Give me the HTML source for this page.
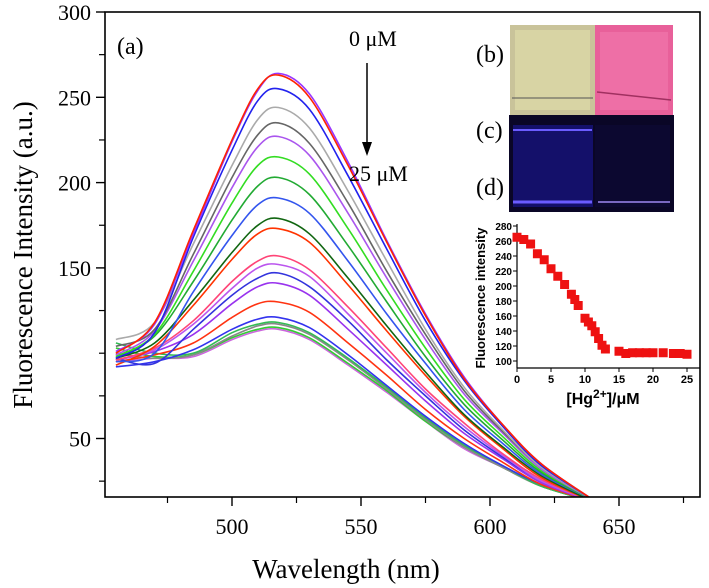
<!DOCTYPE html>
<html><head><meta charset="utf-8">
<style>
html,body{margin:0;padding:0;background:#fff;}
svg{display:block;font-family:"Liberation Serif",serif;}
.sans{font-family:"Liberation Sans",sans-serif;font-weight:bold;}
</style></head>
<body>
<svg id="chart" width="709" height="588" viewBox="0 0 709 588" xmlns="http://www.w3.org/2000/svg">
<defs><clipPath id="plotclip"><rect x="105" y="12" width="595" height="485"/></clipPath></defs>
<g id="curves" clip-path="url(#plotclip)"></g>
<rect x="105" y="12" width="595" height="485" fill="none" stroke="#000" stroke-width="1.6"/>
<g id="xticks"></g>
<g id="yticks"></g>
<text x="346" y="578" font-size="27" text-anchor="middle">Wavelength (nm)</text>
<text transform="translate(32,255) rotate(-90)" font-size="27" text-anchor="middle">Fluorescence Intensity (a.u.)</text>
<text x="117" y="54" font-size="24">(a)</text>
<text x="349" y="46" font-size="22">0 μM</text>
<line x1="367" y1="63" x2="367" y2="150" stroke="#000" stroke-width="1.5"/>
<polygon points="362,142 372,142 367,156" fill="#000"/>
<text x="349" y="181" font-size="22">25 μM</text>
<text x="476" y="62" font-size="24">(b)</text>
<text x="476" y="138" font-size="24">(c)</text>
<text x="476" y="195" font-size="24">(d)</text>
<g>
<rect x="510" y="25" width="85" height="90" fill="#c9c39a"/>
<rect x="515" y="30" width="75" height="80" fill="#d8d4a4"/>
<rect x="595" y="25" width="78" height="90" fill="#e8609a"/>
<rect x="600" y="32" width="68" height="78" fill="#ee6fa6"/>
<line x1="512" y1="98" x2="593" y2="98" stroke="#555" stroke-width="1"/>
<line x1="597" y1="92" x2="671" y2="100" stroke="#a03060" stroke-width="1.5"/>
</g>
<g>
<rect x="509" y="115" width="165" height="97" fill="#0a0626"/>
<rect x="513" y="125" width="80" height="82" fill="#14106a"/>
<rect x="595" y="125" width="75" height="82" fill="#0c0830"/>
<line x1="513" y1="130" x2="592" y2="130" stroke="#6b5cff" stroke-width="2"/>
<line x1="513" y1="202" x2="592" y2="202" stroke="#6b5cff" stroke-width="3"/>
<line x1="598" y1="202" x2="670" y2="202" stroke="#7a68c0" stroke-width="2"/>
</g>
<g id="inset"></g>
<text transform="translate(485,298) rotate(-90)" class="sans" font-size="13" text-anchor="middle">Fluorescence intensity</text>
<text x="603" y="404" class="sans" font-size="16" text-anchor="middle">[Hg<tspan font-size="12" dy="-6">2+</tspan><tspan dy="6">]/μM</tspan></text>
</svg>
<script>
const wavelengths=[455,470,485,500,510,518,530,545,560,575,590,605,620,640];
const s01=[100,118,172,225,255,263,250,210,165,122,85,58,35,14];
const s02=[101,117,170,224,254,264,252,212,166,123,86,58,35,14];
const s03=[97,112,168,219,248,255,243,204,161,119,84,57,34,14];
const s04=[108,118,164,210,237,244,232,195,154,114,80,55,33,14];
const s05=[104,114,158,203,228,235,223,188,148,111,78,54,33,14];
const s06=[99,113,154,197,221,227,216,182,144,108,76,53,32,14];
const s07=[98,111,148,188,210,215,205,173,137,103,73,51,31,14];
const s08=[98,110,142,178,198,203,193,163,130,98,70,49,30,14];
const s09=[95,100,136,169,187,191,182,154,123,94,67,47,29,14];
const s10=[97,106,131,159,175,179,170,144,116,89,64,45,28,13];
const s11=[93,104,128,155,170,173,165,140,113,87,63,44,27,13];
const s12=[96,103,119,142,154,157,149,127,103,79,59,41,26,13];
const s13=[96,102,117,138,150,152,145,123,100,77,57,40,25,13];
const s14=[97,94,114,134,144,147,139,119,96,75,55,39,25,13];
const s15=[96,101,111,129,139,141,134,114,93,72,53,38,24,13];
const s16=[95,99,106,121,129,130,124,106,87,67,50,36,23,13];
const s17=[92,95,102,114,120,121,115,99,81,63,47,34,23,13];
const s18=[106,100,100,112,117,118,112,97,80,62,46,34,22,13];
const s19=[100,97,99,110,116,117,111,96,79,61,45,33,22,13];
const s20=[103,98,99,109,114,115,109,94,78,60,45,33,22,13];
const s21=[95,97,98,108,113,114,108,93,77,60,44,33,22,13];
const seriesList=[s21,s20,s19,s18,s17,s16,s15,s14,s13,s12,s11,s10,s09,s08,s07,s06,s05,s04,s03,s02,s01];
const seriesColors=["#cc66dd","#33cc33","#888888","#33bb55","#3333ee","#ff3311","#9933ee","#3333dd","#bb55ee","#ff4477","#ff3300","#116611","#3355ee","#22aa33","#33dd22","#aa55ee","#666666","#aaaaaa","#2222ee","#9933ff","#ff2200"];
const xTicks=[500,550,600,650];
const xMinor=[475,525,575,625,675];
const yTicks=[50,150,200,250,300];
const yMinor=[25,75,100,125,175,225,275];
const yTickLabels=["50","150","200","250","300"];
const insetX=[0,1,2,3,4,5,6,7,8,8.5,9,10,10.5,11,11.5,12,12.5,13,15,16,17,18,19,20,21.5,23,24,25];
const insetY=[265,262,256,243,235,223,213,202,189,182,174,157,152,147,139,130,121,116,113,110,111,111,111,111,111,110,110,109];
const insetXTicks=[0,5,10,15,20,25];
const insetYTicks=[100,120,140,160,180,200,220,240,260,280];

const NS="http://www.w3.org/2000/svg";
const xS=v=>232+(v-500)*129/50;
const yS=v=>12+(300-v)*85.3/50;
function mk(tag,attrs,parent){const e=document.createElementNS(NS,tag);for(const k in attrs)e.setAttribute(k,attrs[k]);parent.appendChild(e);return e;}
function smooth(pts){let d="M"+pts[0][0]+","+pts[0][1];for(let i=0;i<pts.length-1;i++){const p0=pts[Math.max(0,i-1)],p1=pts[i],p2=pts[i+1],p3=pts[Math.min(pts.length-1,i+2)];const c1x=p1[0]+(p2[0]-p0[0])/6,c1y=p1[1]+(p2[1]-p0[1])/6,c2x=p2[0]-(p3[0]-p1[0])/6,c2y=p2[1]-(p3[1]-p1[1])/6;d+=" C"+c1x.toFixed(1)+","+c1y.toFixed(1)+" "+c2x.toFixed(1)+","+c2y.toFixed(1)+" "+p2[0].toFixed(1)+","+p2[1].toFixed(1);}return d;}
const cg=document.getElementById("curves");
seriesList.forEach((s,i)=>{
  const pts=s.map((v,j)=>[xS(wavelengths[j]),yS(v)]);
  const p=mk("path",{d:smooth(pts),fill:"none",stroke:seriesColors[i],"stroke-width":"1.6"},cg);
  
  
});
const xg=document.getElementById("xticks");
xTicks.forEach(t=>{mk("line",{x1:xS(t),y1:497,x2:xS(t),y2:506,stroke:"#000","stroke-width":1.4},xg);
  const tx=mk("text",{x:xS(t),y:534,"font-size":22,"text-anchor":"middle"},xg);tx.textContent=t;
  
  });
xMinor.forEach(t=>mk("line",{x1:xS(t),y1:497,x2:xS(t),y2:503,stroke:"#000","stroke-width":1.2},xg));
const yg=document.getElementById("yticks");
yTicks.forEach((t,i)=>{mk("line",{x1:96,y1:yS(t),x2:105,y2:yS(t),stroke:"#000","stroke-width":1.4},yg);
  const tx=mk("text",{x:91,y:yS(t)+8,"font-size":22,"text-anchor":"end"},yg);tx.textContent=yTickLabels[i];
  
  });
yMinor.forEach(t=>{if(yS(t)<497)mk("line",{x1:99,y1:yS(t),x2:105,y2:yS(t),stroke:"#000","stroke-width":1.2},yg);});
const ig=document.getElementById("inset");
const ixS=v=>517+v*170/25;
const iyS=v=>361-(v-100)*120/160;
mk("line",{x1:517,y1:224,x2:517,y2:368,stroke:"#000","stroke-width":1.2},ig);
mk("line",{x1:517,y1:368,x2:700,y2:368,stroke:"#000","stroke-width":1.2},ig);
insetYTicks.forEach(t=>{mk("line",{x1:513,y1:iyS(t),x2:517,y2:iyS(t),stroke:"#000"},ig);
  const tx=mk("text",{x:512,y:iyS(t)+4,"font-size":10,"text-anchor":"end",class:"sans"},ig);tx.textContent=t;
  
  });
insetXTicks.forEach(t=>{mk("line",{x1:ixS(t),y1:368,x2:ixS(t),y2:372,stroke:"#000"},ig);
  const tx=mk("text",{x:ixS(t),y:383,"font-size":11,"text-anchor":"middle",class:"sans"},ig);tx.textContent=t;
  
  });
insetX.forEach((x,i)=>{const r=mk("rect",{x:ixS(x)-4.5,y:iyS(insetY[i])-4.5,width:9,height:9,fill:"#ee1111"},ig);
  
  });
</script>
</body></html>
